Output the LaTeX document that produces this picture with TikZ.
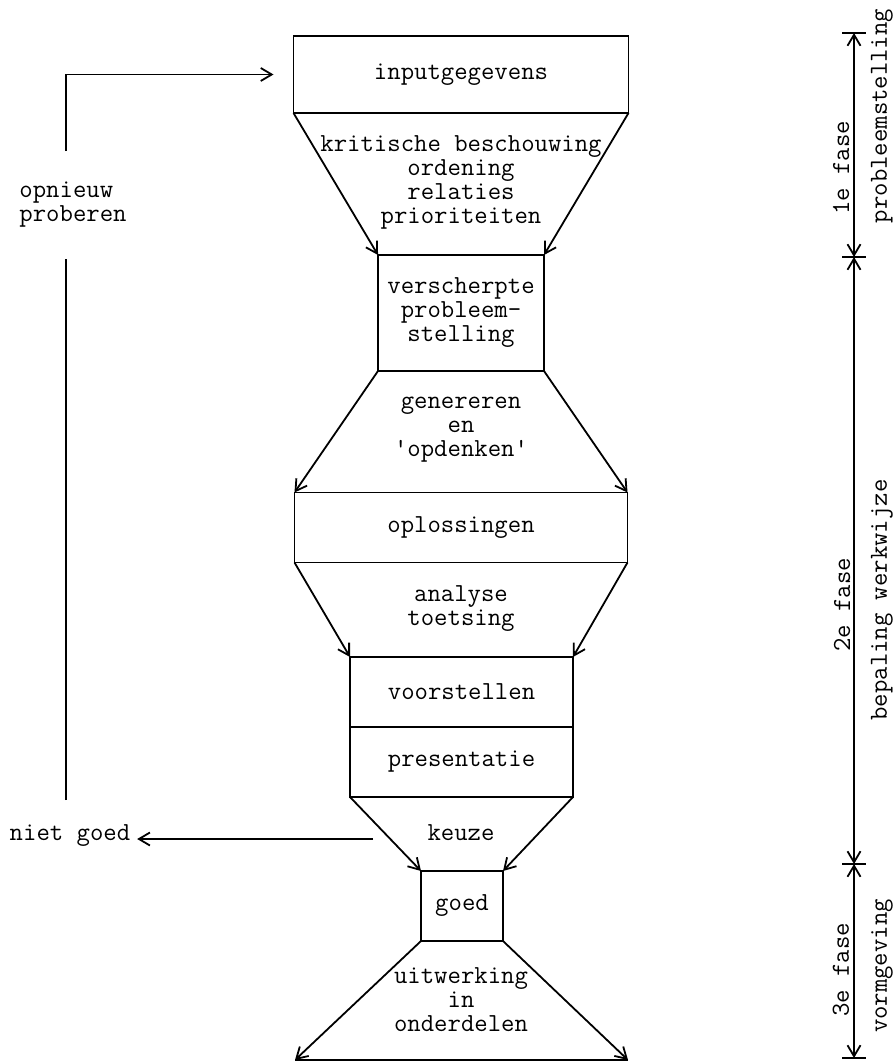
\documentclass[tikz,border=0pt]{standalone}
\usetikzlibrary{arrows.meta}

\begin{document}
\begin{tikzpicture}[x=0.5pt,y=-0.5pt,line width=0.9pt,>={Straight Barb[length=5.5pt,width=6.5pt]},
  every node/.style={font=\ttfamily\fontsize{13}{12}\selectfont,align=center,inner sep=0pt},
  blok/.style={draw,minimum height=35pt,outer sep=0pt},
  fase/.style={rotate=90}]
\useasboundingbox (0,0) rectangle (894,1063);
\node[blok,minimum width=167.5pt,minimum height=38.5pt] (inp) at (461,74.5) {inputgegevens};
\node[blok,minimum width=83pt,minimum height=58pt] (vsp) at (461,313) {verscherpte\\probleem-\\stelling};
\node[blok,minimum width=166.5pt] (opl) at (461,527.5) {oplossingen};
\node[blok,minimum width=111.5pt] (voo) at (461.5,692) {voorstellen};
\node[blok,minimum width=111.5pt,anchor=north] (pre) at (voo.south) {presentatie};
\node[blok,minimum width=41pt] (goed) at (462,906) {goed};
\coordinate (ondL) at (295,1060);
\coordinate (ondR) at (628,1060);
\node (krit) at (461,182) {kritische beschouwing\\ordening\\relaties\\prioriteiten};
\node (gen) at (461,430) {genereren\\en\\\textquotesingle opdenken\textquotesingle};
\node (anl) at (461,609) {analyse\\toetsing};
\node (kz) at (461,833) {keuze};
\node (uitw) at (461,1000) {uitwerking\\in\\onderdelen};
\draw[->] (inp.south west) -- (vsp.north west);
\draw[->] (inp.south east) -- (vsp.north east);
\draw[->] (vsp.south west) -- (opl.north west);
\draw[->] (vsp.south east) -- (opl.north east);
\draw[->] (opl.south west) -- (voo.north west);
\draw[->] (opl.south east) -- (voo.north east);
\draw[->] (pre.south west) -- (goed.north west);
\draw[->] (pre.south east) -- (goed.north east);
\draw[->] (goed.south west) -- (ondL);
\draw[->] (goed.south east) -- (ondR);
\draw (ondL) -- (ondR);
\node (ng) at (70,836) {niet goed};
\node[align=left,minimum height=53pt] (opn) at (73,205) {opnieuw\\proberen};
\coordinate (vertrek) at (373,839);
\coordinate (lus) at (66,800);
\draw[->,shorten >=3pt] (vertrek) -- (vertrek -| ng.east);
\draw (lus) -- (lus |- opn.south);
\draw[->] (lus |- opn.north) |- ([xshift=-10pt]inp.west);
\coordinate (d0) at (854,33);
\coordinate (d1) at (854,257);
\coordinate (d2) at (854,864);
\coordinate (d3) at (854,1058);
\foreach \d in {d0,d1,d2,d3} \draw ([xshift=-6pt]\d) -- ([xshift=6pt]\d);
\draw[<->] (d0) -- (d1);
\draw[<->] (d1) -- (d2);
\draw[<->] (d2) -- (d3);
\node[fase] (f1) at (841,168) {1e fase};
\node[fase] (f1n) at (882,116) {probleemstelling};
\node[fase] (f2) at (842,605) {2e fase};
\node[fase] (f2n) at (882,600) {bepaling werkwijze};
\node[fase] (f3) at (841,970) {3e fase};
\node[fase] (f3n) at (882,966) {vormgeving};
\end{tikzpicture}
\end{document}
